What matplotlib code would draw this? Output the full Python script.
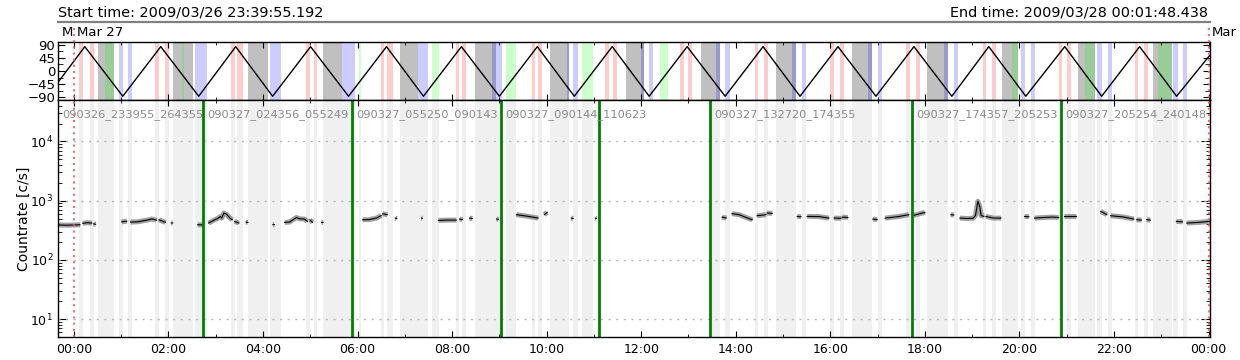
import numpy as np
import matplotlib
matplotlib.use('Agg')
import matplotlib.pyplot as plt
from matplotlib import transforms
from matplotlib.lines import Line2D
from matplotlib.ticker import FixedLocator, FixedFormatter, LogLocator, NullFormatter

# time axis in hours since 2009-03-27 00:00
t_start, t_end = -0.3347, 24.0301

# orbit angle (top panel), vertices
orbit_t = [-0.335, 0.232, 1.035, 1.838, 2.641, 3.423, 4.204, 5.007, 5.810, 6.613,
           7.394, 8.197, 9.000, 9.803, 10.585, 11.387, 12.169, 12.972, 13.775,
           14.578, 15.359, 16.162, 16.965, 17.768, 18.570, 19.352, 20.134,
           20.958, 21.739, 22.542, 23.324, 24.030]
orbit_v = [-39, 84, -87, 84, -87, 84, -87, 84, -87, 84, -87, 84, -87, 84, -87,
           84, -87, 84, -87, 84, -87, 84, -87, 84, -87, 84, -87, 84, -87, 84,
           -87, 55]

# flagged intervals (hours)
grey_bands = [(0.51, 0.85), (2.09, 2.51), (3.68, 4.10), (5.28, 5.68), (6.89, 7.27),
              (8.49, 8.92), (10.08, 10.48), (11.68, 12.06), (13.27, 13.67),
              (14.85, 15.27), (16.46, 16.88), (18.04, 18.49), (19.63, 19.96),
              (21.23, 21.59), (22.82, 23.22)]
blue_bands = [(0.95, 1.04), (1.14, 1.23), (2.56, 2.81), (4.14, 4.39), (5.68, 5.94),
              (7.27, 7.50), (8.85, 9.06), (10.42, 10.48), (10.56, 10.67),
              (12.00, 12.06), (12.17, 12.25), (13.58, 13.67), (13.77, 13.88),
              (15.19, 15.27), (15.40, 15.49), (16.80, 16.88), (17.01, 17.09),
              (18.40, 18.49), (18.61, 18.70), (20.03, 20.11), (20.24, 20.32),
              (21.63, 21.74), (21.87, 21.95), (23.24, 23.35), (23.45, 23.54)]
green_bands = [(0.65, 0.85), (2.28, 2.32), (6.04, 6.08), (7.58, 7.73), (9.15, 9.36),
               (10.75, 10.99), (12.40, 12.57), (19.84, 19.96), (21.38, 21.59),
               (22.92, 23.22)]
pink_bands = [(0.11, 0.19), (0.34, 0.42), (1.71, 1.80), (1.92, 2.01), (3.32, 3.40),
              (3.46, 3.57), (4.90, 4.99), (5.07, 5.15), (6.49, 6.57), (6.63, 6.74),
              (8.09, 8.15), (8.22, 8.30), (9.68, 9.76), (9.82, 9.91), (11.24, 11.32),
              (11.41, 11.49), (12.82, 12.91), (12.99, 13.08), (14.41, 14.47),
              (14.60, 14.68), (15.99, 16.08), (16.20, 16.29), (17.60, 17.68),
              (17.81, 17.89), (19.23, 19.29), (19.42, 19.50), (20.83, 20.89),
              (21.00, 21.08), (22.44, 22.50), (22.63, 22.71)]

# data files
file_names = ['090326_233955_264355', '090327_024356_055249', '090327_055250_090143',
              '090327_090144_110623', '090327_132720_174355', '090327_174357_205253',
              '090327_205254_240148']
file_starts = [-0.335, 2.732, 5.881, 9.029, 13.456, 17.733, 20.882]
file_lines = [2.732, 5.881, 9.029, 11.106, 13.456, 17.733, 20.882]
no_file = (11.106, 13.456)

# count rate segments
seg_t = [
    [-0.34, -0.17, 0.0, 0.13], [0.19, 0.29, 0.38], [0.42, 0.46], [1.01, 1.12],
    [1.20, 1.35, 1.55, 1.65, 1.75], [1.80, 1.94], [2.06, 2.09], [2.62, 2.73],
    [2.85, 2.98, 3.04, 3.10, 3.13, 3.17, 3.23, 3.30, 3.35], [3.40, 3.49],
    [3.64, 3.68], [4.21, 4.24], [4.46, 4.56, 4.71, 4.77, 4.88, 4.94], [4.99, 5.05],
    [5.24, 5.27], [6.11, 6.25, 6.40, 6.50], [6.53, 6.63], [6.80, 6.83],
    [7.35, 7.37], [7.71, 7.90, 8.09], [8.16, 8.22], [8.37, 8.43], [8.94, 8.98],
    [9.36, 9.60, 9.82], [9.95, 10.01], [10.52, 10.56], [11.03, 11.05],
    [13.71, 13.80], [13.92, 14.07, 14.22, 14.35], [14.45, 14.64], [14.66, 14.77],
    [15.30, 15.38], [15.51, 15.75, 15.97], [16.08, 16.23], [16.25, 16.37],
    [16.90, 16.99], [17.16, 17.45, 17.66], [17.73, 18.00], [18.55, 18.61],
    [18.74, 18.90, 19.02, 19.07, 19.12, 19.16, 19.19, 19.25],
    [19.29, 19.45, 19.61], [20.11, 20.20], [20.32, 20.50, 20.70, 20.83],
    [20.94, 21.19], [21.72, 21.85], [21.93, 22.20, 22.42], [22.48, 22.58],
    [22.69, 22.77], [23.32, 23.45], [23.54, 23.80, 24.00, 24.03]]
seg_v = [
    [390, 385, 388, 392], [415, 425, 418], [405, 400], [440, 450],
    [435, 440, 470, 490, 470], [475, 430], [420, 418], [392, 390],
    [419, 476, 500, 542, 508, 618, 590, 510, 476], [446, 419],
    [435, 430], [392, 395], [430, 435, 521, 495, 489, 446], [476, 430],
    [429, 430], [476, 480, 508, 560], [600, 580], [508, 500],
    [510, 505], [464, 470, 470], [489, 480], [508, 500], [489, 485],
    [580, 545, 508], [580, 634], [508, 500], [508, 500],
    [528, 510], [603, 580, 520, 476], [557, 580], [618, 610],
    [542, 535], [542, 540, 508], [508, 505], [528, 520],
    [489, 480], [508, 540, 580], [557, 634], [580, 570],
    [508, 500, 505, 560, 975, 800, 560, 542],
    [542, 508, 508], [542, 535], [508, 520, 528, 520],
    [557, 557], [659, 580], [557, 530, 490], [476, 470],
    [476, 470], [446, 440], [419, 430, 446, 450]]

xtick_pos = list(range(0, 25, 2))
xtick_labels = ['00:00', '02:00', '04:00', '06:00', '08:00', '10:00', '12:00',
                '14:00', '16:00', '18:00', '20:00', '22:00', '00:00']

fig = plt.figure(figsize=(12.4, 3.6), dpi=100)
ax1 = fig.add_axes([0.0468, 0.7222, 0.929, 0.1611])
ax2 = fig.add_axes([0.0468, 0.0639, 0.929, 0.6583])

# top panel
for a, b in grey_bands:
    ax1.axvspan(a, b, color='#c0c0c0', lw=0)
for a, b in blue_bands:
    ax1.axvspan(a, b, color='blue', alpha=0.2, lw=0)
for a, b in green_bands:
    ax1.axvspan(a, b, color='lime', alpha=0.2, lw=0)
for a, b in pink_bands:
    ax1.axvspan(a, b, color='red', alpha=0.2, lw=0)
ax1.plot(orbit_t, orbit_v, color='k', lw=1)
ax1.set_xlim(t_start, t_end)
ax1.set_ylim(-100, 100)
ax1.set_yticks([-90, -45, 0, 45, 90])
ax1.set_yticklabels(['\u221290', '\u221245', '0', '45', '90'])
ax1.yaxis.set_minor_locator(FixedLocator([-67.5, -22.5, 22.5, 67.5]))
ax1.xaxis.set_major_locator(FixedLocator(xtick_pos))
ax1.xaxis.set_minor_locator(FixedLocator(list(range(1, 24, 2))))
ax1.tick_params(axis='both', which='both', direction='in', top=True, right=True,
                labelbottom=False, labelsize=9.5, pad=2)
ax1.tick_params(axis='x', which='major', length=4)
ax1.tick_params(axis='x', which='minor', length=2.5)
ax1.tick_params(axis='y', which='major', length=5)
ax1.tick_params(axis='y', which='minor', length=3.5)

# bottom panel
all_bands = grey_bands + blue_bands + green_bands + pink_bands
for a, b in all_bands:
    if no_file[0] <= a and b <= no_file[1]:
        continue
    if a < no_file[1] < b:
        a = no_file[1]
    ax2.axvspan(a, b, color='#f0f0f0', lw=0)

for yv in [1e1, 1e2, 1e3, 1e4]:
    ax2.axhline(yv, color='#b8b8b8', lw=1, ls=(0, (1.5, 4.0)))

for t, v in zip(seg_t, seg_v):
    ax2.plot(t, v, color='#a0a0a0', lw=3.6, solid_capstyle='butt')
    ax2.plot(t, v, color='k', lw=0.8)

for t in file_lines:
    ax2.axvline(t, color='#008000', lw=2)

lab_tr = transforms.offset_copy(
    transforms.blended_transform_factory(ax2.transData, ax2.transAxes),
    fig=fig, x=3, y=0, units='points')
for name, t in zip(file_names, file_starts):
    ax2.text(t, 0.937, name, transform=lab_tr, color='#8a8a8a', fontsize=8.2,
             va='center', ha='left')

ax2.set_yscale('log')
ax2.set_ylim(5, 5e4)
ax2.set_xlim(t_start, t_end)
ax2.yaxis.set_major_locator(LogLocator(base=10, numticks=10))
ax2.yaxis.set_minor_locator(LogLocator(base=10, subs=np.arange(2, 10), numticks=20))
ax2.yaxis.set_minor_formatter(NullFormatter())
ax2.xaxis.set_major_locator(FixedLocator(xtick_pos))
ax2.xaxis.set_major_formatter(FixedFormatter(xtick_labels))
ax2.xaxis.set_minor_locator(FixedLocator(list(range(1, 24, 2))))
ax2.tick_params(axis='both', which='both', direction='in', top=True, right=True,
                labelsize=9)
ax2.tick_params(axis='x', which='major', length=4, pad=4)
ax2.tick_params(axis='x', which='minor', length=2)
ax2.tick_params(axis='y', which='major', length=6.5)
ax2.tick_params(axis='y', which='minor', length=3)
ax2.set_ylabel('Countrate [c/s]', fontsize=10)
ax2.yaxis.set_label_coords(-0.0235, 0.5)

for ax in (ax1, ax2):
    for s in ax.spines.values():
        s.set_linewidth(1)

# header
fig.text(58 / 1240, 1 - 13 / 360, 'Start time: 2009/03/26 23:39:55.192',
         fontsize=10.4, va='center', ha='left')
fig.text(1208 / 1240, 1 - 13 / 360, 'End time: 2009/03/28 00:01:48.438',
         fontsize=10.4, va='center', ha='right')
fig.add_artist(Line2D([0.0468, 0.9758], [1 - 22 / 360, 1 - 22 / 360],
                      transform=fig.transFigure, color='#808080', lw=1.6))
fig.text(62 / 1240, 1 - 32 / 360, 'M', fontsize=9.5, va='center', ha='left')
fig.text(77 / 1240, 1 - 32 / 360, 'Mar 27', fontsize=9.5, va='center', ha='left')
fig.text(1212 / 1240, 1 - 32 / 360, 'Mar', fontsize=9.5, va='center', ha='left')

# day boundaries
day_tr = transforms.blended_transform_factory(ax2.transData, fig.transFigure)
for t in [0, 24]:
    fig.add_artist(Line2D([t, t], [0.0639, 1 - 27 / 360], transform=day_tr,
                          color='#ff5a5a', ls=(0, (1.2, 2.2)), lw=1.3))

fig.savefig('out.png', dpi=100)
